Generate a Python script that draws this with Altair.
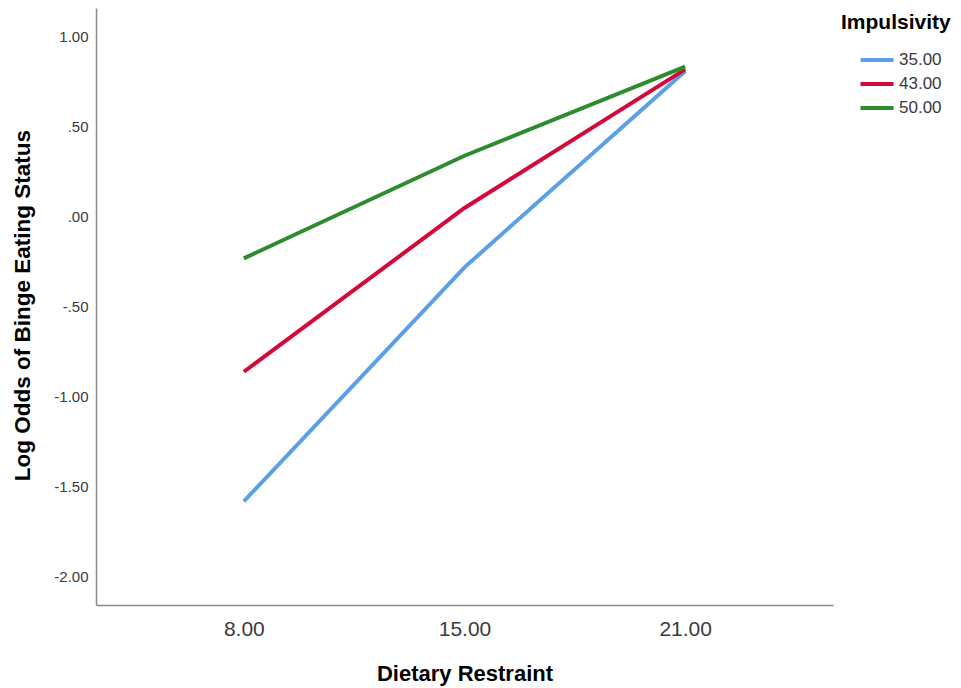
import altair as alt
import pandas as pd

# Data
restraint = ["8.00", "15.00", "21.00"]
impulsivity = ["35.00", "43.00", "50.00"]
log_odds_35 = [-1.58, -0.28, 0.81]
log_odds_43 = [-0.86, 0.05, 0.82]
log_odds_50 = [-0.23, 0.34, 0.835]
y_ticks = [-2.0, -1.5, -1.0, -0.5, 0.0, 0.5, 1.0]
y_tick_labels = ["-2.00", "-1.50", "-1.00", "-.50", ".00", ".50", "1.00"]
colors = ["#5B9FE8", "#D3093A", "#2E8B2E"]

rows = []
for imp, vals in zip(impulsivity, [log_odds_35, log_odds_43, log_odds_50]):
    for r, v in zip(restraint, vals):
        rows.append({"Dietary Restraint": r, "Impulsivity": imp, "LogOdds": v})
df = pd.DataFrame(rows)

font = "Liberation Sans"

y_label_expr = " : ".join(
    f"abs(datum.value - ({v})) < 1e-6 ? '{lab}'" for v, lab in zip(y_ticks, y_tick_labels)
) + " : ''"

chart = (
    alt.Chart(df)
    .mark_line(strokeWidth=4)
    .encode(
        x=alt.X(
            "Dietary Restraint:O",
            sort=restraint,
            scale=alt.Scale(type="point", padding=0.67),
            axis=alt.Axis(
                title="Dietary Restraint",
                labelAngle=0,
                ticks=False,
                grid=False,
                domainColor="#8a8a8a",
                domainWidth=1.5,
                labelFont=font,
                labelFontSize=21,
                labelColor="#3a3a3a",
                labelPadding=13,
                titleFont=font,
                titleFontSize=22,
                titleFontWeight="bold",
                titleColor="#000000",
                titleBaseline="alphabetic",
                titleY=75,
            ),
        ),
        y=alt.Y(
            "LogOdds:Q",
            scale=alt.Scale(domain=[-2.156, 1.161], nice=False, zero=False),
            axis=alt.Axis(
                title="Log Odds of Binge Eating Status",
                values=y_ticks,
                labelExpr=y_label_expr,
                ticks=False,
                grid=False,
                domainColor="#8a8a8a",
                domainWidth=1.5,
                labelFont=font,
                labelFontSize=15,
                labelColor="#3a3a3a",
                labelPadding=8,
                titleFont=font,
                titleFontSize=22.5,
                titleFontWeight="bold",
                titleColor="#000000",
                titleBaseline="alphabetic",
                titleAngle=-90,
                titleX=-67,
                titleY=297,
            ),
        ),
        color=alt.Color(
            "Impulsivity:N",
            sort=impulsivity,
            scale=alt.Scale(domain=impulsivity, range=colors),
            legend=alt.Legend(
                title="Impulsivity",
                orient="none",
                legendX=745,
                legendY=4,
                padding=0,
                titleFont=font,
                titleFontSize=21,
                titleFontWeight="bold",
                titleColor="#000000",
                titlePadding=13,
                symbolType="M-1.375,0H1.375",
                symbolSize=576,
                symbolStrokeWidth=4,
                symbolOffset=22,
                labelFont=font,
                labelFontSize=17,
                labelColor="#3a3a3a",
                labelOffset=8,
                rowPadding=2,
            ),
        ),
    )
    .properties(
        width=737,
        height=597,
        padding={"left": 88, "top": 0, "right": 120, "bottom": 83},
        autosize=alt.AutoSizeParams(type="none"),
    )
    .configure_view(stroke=None)
)

chart.save("out.html", embed_options={"renderer": "svg", "actions": False})
